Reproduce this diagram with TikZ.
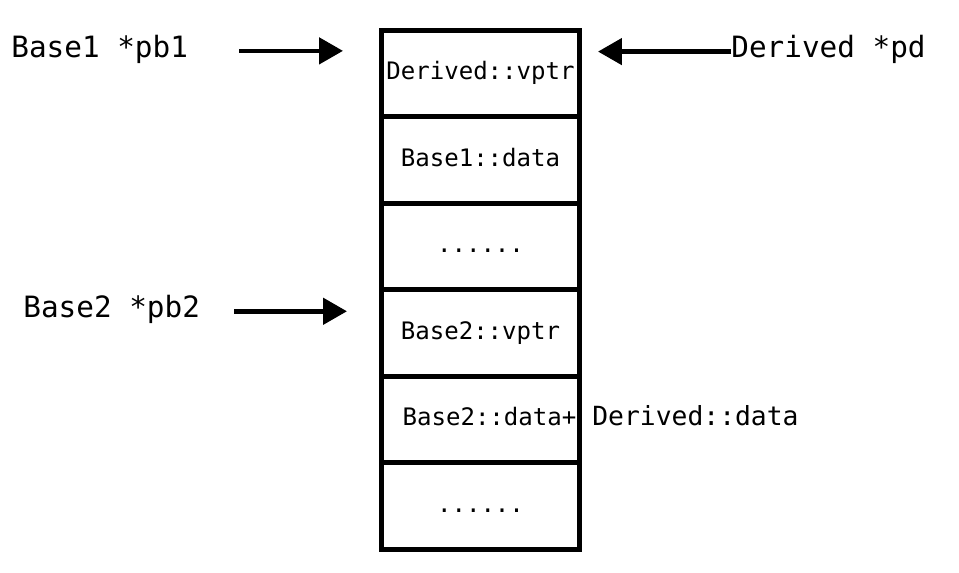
\documentclass[tikz,border=0pt]{standalone}
\usepackage{fontspec}
\setmonofont{DejaVu Sans Mono}
\usetikzlibrary{arrows.meta,positioning}

\begin{document}
\begin{tikzpicture}[x=0.02cm, y=-0.02cm, node distance=0cm, every node/.style={font=\ttfamily}]
        \tikzstyle{cell} = [rectangle, draw=black, line width=0.1cm, outer sep=0pt,
            minimum width=3.98cm, minimum height=1.73cm, inner sep=0pt,
            font=\ttfamily\fontsize{13.7}{16}\selectfont, text height=0.73em, text depth=0pt]
        \tikzstyle{ptr} = [anchor=base west, inner sep=0pt, text height=0.73em, text depth=0pt,
            font=\ttfamily\fontsize{16.7}{20}\selectfont]
        \tikzstyle{arrow} = [-{Triangle[length=0.48cm, width=0.52cm]}, line width=0.095cm]

        \useasboundingbox (0,0) rectangle (959,573);

        % object layout of Derived
        \node (vptr) [cell] at (480.5,73.5) {Derived::vptr};
        \node (data1) [cell, below=of vptr] {Base1::data};
        \node (gap1) [cell, below=of data1] {......};
        \node (vptr2) [cell, below=of gap1] {Base2::vptr};
        \node (data2) [cell, below=of vptr2] {\hspace*{0.36cm}Base2::data+};
        \node (gap2) [cell, below=of data2] {......};
        \node (ddata) [right=0.24cm of data2, inner sep=0pt, text height=0.73em, text depth=0pt,
            font=\ttfamily\fontsize{15}{18}\selectfont] {Derived::data};

        % pointers
        \node (pb1) [ptr] at (11,57.3) {Base1 *pb1};
        \node (pd) [ptr] at (731,58) {Derived *pd};
        \node (pb2) [ptr] at (23,317.7) {Base2 *pb2};

        \draw [arrow, shorten <=1.02cm, shorten >=0.76cm] (pb1.east) -- (pb1.east -| vptr.west);
        \draw [arrow, shorten >=0.36cm] (pd.west) -- (pd.west -| vptr.east);
        \draw [arrow, shorten <=0.68cm, shorten >=0.68cm] (pb2.east) -- (pb2.east -| vptr2.west);
    \end{tikzpicture}
\end{document}
